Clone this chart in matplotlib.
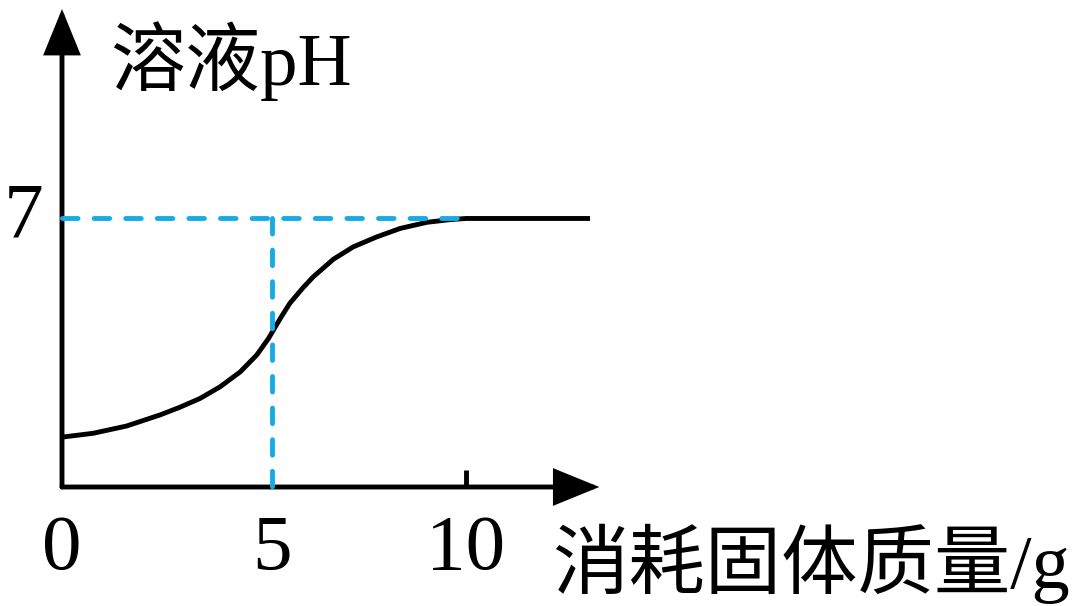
import matplotlib
matplotlib.use("Agg")
import matplotlib.pyplot as plt
import numpy as np

# curve (x = 消耗固体质量 g, y = pH in plot units)
mass = [0.0, 0.77, 1.60, 2.43, 2.92, 3.42, 3.91, 4.41, 4.82, 5.11, 5.40, 5.64,
        5.97, 6.22, 6.72, 7.21, 7.79, 8.37, 9.03, 9.60, 10.0, 13.07]
ph = [1.30, 1.40, 1.59, 1.88, 2.08, 2.31, 2.61, 3.00, 3.44, 3.87, 4.39, 4.79,
      5.20, 5.48, 5.94, 6.26, 6.52, 6.74, 6.90, 6.97, 7.0, 7.0]

x_ticks = [0, 5.2, 10]
x_tick_labels = ["0", "5", "10"]
ph_mark = 7
ph_label = "7"
mid_x = 5.2      # dashed drop line
end_x = 10       # where curve reaches pH 7

x_title = "消耗固体质量/g"
y_title = "溶液pH"

x_axis_end = 13.3
y_axis_end = 12.46

blue = "#17ABE3"
lw = 3.5

fig = plt.figure(figsize=(10.8, 6.06), dpi=100)
ax = fig.add_axes([0, 0, 1, 1])
# pixel -> data: x=(px-62)/40.4, y=(487-py)/38.36
ax.set_xlim(-62 / 40.4, (1080 - 62) / 40.4)
ax.set_ylim((487 - 606) / 38.36, 487 / 38.36)
ax.axis("off")

fonts = ["Liberation Serif", "Noto Sans CJK SC", "DejaVu Sans"]

# axes with arrows
arrow = dict(arrowstyle="-|>,head_length=1.35,head_width=0.55", mutation_scale=20,
             lw=lw, color="black", shrinkA=0, shrinkB=0, joinstyle="miter")
ax.annotate("", xy=(x_axis_end, 0), xytext=(0, 0), arrowprops=arrow)
ax.annotate("", xy=(0, y_axis_end), xytext=(0, 0), arrowprops=arrow)

# small tick at 10
ax.plot([x_ticks[-1], x_ticks[-1]], [0, 0.44], color="black", lw=lw, solid_capstyle="butt")

# curve
ax.plot(mass, ph, color="black", lw=lw, zorder=3, solid_capstyle="butt",
        solid_joinstyle="round")

# dashed guides
ax.plot([0, end_x], [ph_mark, ph_mark], color=blue, lw=lw, dashes=(3.2, 3.3),
        dash_capstyle="round", zorder=4)
ax.plot([mid_x, mid_x], [ph_mark, 0], color=blue, lw=lw, dashes=(3.2, 3.3),
        dash_capstyle="round", zorder=4)

# tick labels
for xv, lab in zip(x_ticks, x_tick_labels):
    ax.text(xv, -1.64, lab, ha="center", va="center", fontsize=57, family=fonts)
ax.text(-0.94, ph_mark + 0.02, ph_label, ha="center", va="center", fontsize=57, family=fonts)

# axis titles
ax.text(1.19, 10.48, y_title, ha="left", va="baseline", fontsize=54, family=fonts)
ax.text(12.13, -2.63, x_title, ha="left", va="baseline", fontsize=55, family=fonts)

fig.savefig("out.png", dpi=100)
